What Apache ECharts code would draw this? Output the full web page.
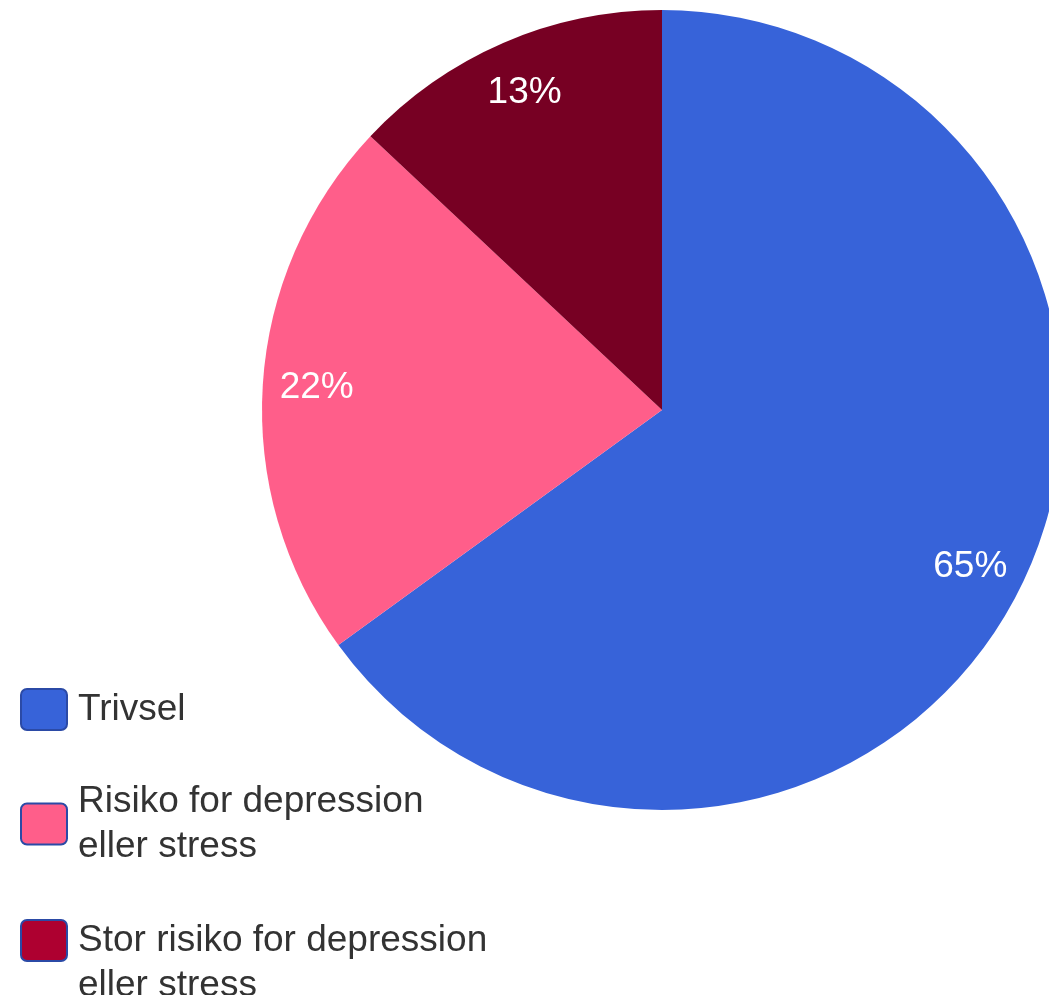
<!DOCTYPE html>
<html><head><meta charset="utf-8">
<script src="https://cdn.jsdelivr.net/npm/echarts@6/dist/echarts.min.js"></script>
<style>html,body{margin:0;padding:0;background:#fff}#c{width:1049px;height:995px}</style>
</head><body><div id="c"></div>
<script>
const categories = ['Trivsel', 'Risiko for depression\neller stress', 'Stor risiko for depression\neller stress'];
const values = [65, 22, 13];
const sliceColors = ['#3763D9', '#FF5E8A', '#770023'];
const legendColors = ['#3763D9', '#FF5E8A', '#AE0030'];

const FONT = '"Liberation Sans", Arial, sans-serif';
const chart = echarts.init(document.getElementById('c'), null, {renderer: 'canvas'});
const data = categories.map((n, i) => ({name: n, value: values[i], itemStyle: {color: sliceColors[i]}}));
const iconPath = 'path://M6,0 H40 A6,6 0 0 1 46,6 V35 A6,6 0 0 1 40,41 H6 A6,6 0 0 1 0,35 V6 A6,6 0 0 1 6,0 Z';
const legendTops = [687, 779, 873];
const legendLead = ['', '', '\n'];
const legends = categories.map((n, i) => ({
  orient: 'vertical', left: 20, top: legendTops[i], padding: 0,
  itemWidth: 46, itemHeight: 41, icon: iconPath,
  selectedMode: false,
  formatter: (name) => legendLead[i] + name,
  data: [{name: n, itemStyle: {color: legendColors[i], borderColor: '#2B4AA6', borderWidth: 2}}],
  textStyle: {fontFamily: FONT, fontSize: 37, color: '#333', lineHeight: 45, padding: [0, 0, 0, 6]}
}));
chart.setOption({
  animation: false,
  legend: legends,
  series: [
    {
      type: 'pie', center: [662, 410], radius: [0, 400], startAngle: 90, clockwise: true,
      data: data, label: {show: false}, labelLine: {show: false},
      itemStyle: {borderWidth: 0}, emphasis: {disabled: true}, silent: true
    },
    {
      type: 'pie', center: [662, 410], radius: [0, 686], startAngle: 90, clockwise: true, z: 5,
      data: categories.map((n, i) => ({name: n, value: values[i]})),
      itemStyle: {color: 'rgba(0,0,0,0)', borderWidth: 0},
      label: {show: true, position: 'inside', formatter: '{d}%', color: '#fff', fontSize: 37, fontFamily: FONT},
      labelLine: {show: false}, emphasis: {disabled: true}, silent: true
    }
  ]
});
</script></body></html>
